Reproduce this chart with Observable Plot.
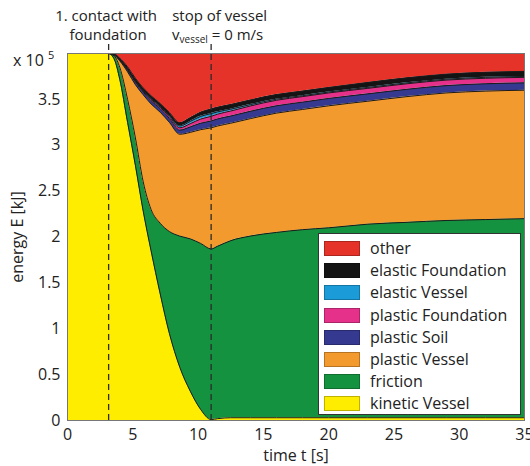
<!DOCTYPE html>
<html><head><meta charset="utf-8">
<script src="https://cdn.jsdelivr.net/npm/d3@7"></script>
<script src="https://cdn.jsdelivr.net/npm/@observablehq/plot@0.6"></script>
<style>
body{margin:0;background:#fff;font-family:"Open Sans",sans-serif;color:#222;}
#wrap{position:relative;width:530px;height:466px;overflow:hidden;}
.ann{position:absolute;font-size:15px;white-space:nowrap;transform:translateX(-50%);line-height:18px;}
.ann sub{font-size:10px;vertical-align:-3px;line-height:0;}
#legend{position:absolute;background:#fff;border:1px solid #333;box-sizing:border-box;}
.row{position:absolute;left:0;height:22px;font-size:16px;line-height:22px;white-space:nowrap;}
.sw{position:absolute;width:36px;height:15px;top:3px;box-sizing:border-box;border:1px solid rgba(0,0,0,0.25);}
.lt{position:absolute;left:46px;top:-1px;}
#pow{position:absolute;font-size:16px;white-space:nowrap;}
#pow sup{font-size:11px;vertical-align:7px;line-height:0;}
</style></head><body><div id="wrap"></div>
<script>
const time = [0, 3.15, 3.6, 4, 4.6, 5.2, 5.8, 6.4, 7.1, 7.8, 8.6, 9.4, 10.2, 11, 11.5, 12.5, 14, 16, 18, 20, 23, 26, 29, 32, 35];
const kineticVessel     = [4, 4, 3.93, 3.72, 3.25, 2.78, 2.28, 1.85, 1.38, 0.95, 0.58, 0.32, 0.12, 0.01, 0.02, 0.03, 0.03, 0.03, 0.03, 0.03, 0.03, 0.03, 0.03, 0.03, 0.03];
const friction          = [0, 0, 0.04, 0.13, 0.25, 0.30, 0.32, 0.45, 0.77, 1.11, 1.43, 1.66, 1.81, 1.86, 1.88, 1.93, 1.98, 2.02, 2.05, 2.07, 2.11, 2.13, 2.15, 2.16, 2.17];
const plasticVessel     = [0, 0, 0.01, 0.07, 0.30, 0.58, 0.95, 1.15, 1.21, 1.19, 1.11, 1.16, 1.24, 1.32, 1.31, 1.28, 1.28, 1.30, 1.31, 1.33, 1.34, 1.37, 1.39, 1.40, 1.40];
const plasticSoil       = [0, 0, 0.005, 0.01, 0.02, 0.025, 0.03, 0.035, 0.04, 0.042, 0.045, 0.06, 0.07, 0.075, 0.077, 0.078, 0.08, 0.08, 0.08, 0.08, 0.08, 0.08, 0.08, 0.08, 0.08];
const plasticFoundation = [0, 0, 0, 0, 0.005, 0.01, 0.01, 0.015, 0.015, 0.02, 0.025, 0.035, 0.045, 0.05, 0.052, 0.055, 0.058, 0.06, 0.06, 0.06, 0.06, 0.06, 0.06, 0.06, 0.06];
const elasticVessel     = [0, 0, 0, 0, 0.005, 0.005, 0.005, 0.01, 0.01, 0.015, 0.02, 0.025, 0.03, 0.03, 0.025, 0.02, 0.015, 0.012, 0.01, 0.01, 0.01, 0.01, 0.01, 0.01, 0.01];
const elasticFoundation = [0, 0, 0.01, 0.02, 0.025, 0.03, 0.03, 0.03, 0.03, 0.03, 0.035, 0.04, 0.045, 0.05, 0.05, 0.05, 0.05, 0.05, 0.05, 0.05, 0.055, 0.055, 0.055, 0.055, 0.055];
const other             = [0, 0, 0.005, 0.05, 0.145, 0.27, 0.375, 0.46, 0.545, 0.643, 0.755, 0.70, 0.64, 0.605, 0.586, 0.557, 0.507, 0.448, 0.41, 0.37, 0.315, 0.265, 0.225, 0.205, 0.195];

const seriesNames  = ["kinetic Vessel", "friction", "plastic Vessel", "plastic Soil", "plastic Foundation", "elastic Vessel", "elastic Foundation", "other"];
const seriesColors = ["#FFED00", "#15923F", "#F39A2E", "#35398F", "#E6318B", "#1B9CD8", "#141414", "#E5332A"];
const seriesValues = [kineticVessel, friction, plasticVessel, plasticSoil, plasticFoundation, elasticVessel, elasticFoundation, other];
const legendOrder  = ["other", "elastic Foundation", "elastic Vessel", "plastic Foundation", "plastic Soil", "plastic Vessel", "friction", "kinetic Vessel"];
const eventTimes   = [3.15, 11];
const xTicks = [0, 5, 10, 15, 20, 25, 30, 35];
const yTicks = [0, 0.5, 1, 1.5, 2, 2.5, 3, 3.5];

const data = seriesNames.flatMap((s, i) => time.map((t, j) => ({t, v: seriesValues[i][j], series: s})));

const chart = Plot.plot({
  width: 530, height: 466,
  marginLeft: 67, marginRight: 6, marginTop: 53, marginBottom: 46,
  style: {fontFamily: '"Open Sans", sans-serif', fontSize: "16px", background: "transparent", overflow: "visible", color: "#222"},
  x: {domain: [0, 35]},
  y: {domain: [0, 4]},
  color: {domain: seriesNames, range: seriesColors},
  marks: [
    Plot.areaY(data, {x: "t", y: "v", fill: "series", order: seriesNames, curve: "monotone-x"}),
    Plot.lineY(data, Plot.stackY2({x: "t", y: "v", z: "series", order: seriesNames, curve: "monotone-x", stroke: "#1b1b1b", strokeWidth: 1})),
    Plot.ruleX(eventTimes, {y1: 0, y2: 4.1, stroke: "#2b2b2b", strokeWidth: 1.3, strokeDasharray: "6,4"}),
    Plot.frame({stroke: "#777"}),
    Plot.axisX({ticks: xTicks, tickSize: 0, tickPadding: 8, label: "time t [s]", labelAnchor: "center", labelOffset: 40, labelArrow: "none"}),
    Plot.axisY({ticks: yTicks, tickSize: 0, tickPadding: 7, tickFormat: d => String(d), label: "energy E [kJ]", labelAnchor: "center", labelOffset: 56, labelArrow: "none"})
  ]
});
const wrap = document.getElementById("wrap");
wrap.appendChild(chart);

const xs = chart.scale("x");
function ann(html, cx, top) {
  const d = document.createElement("div");
  d.className = "ann"; d.innerHTML = html;
  d.style.left = cx + "px"; d.style.top = top + "px";
  wrap.appendChild(d);
}
const x1 = xs.apply(eventTimes[0]), x2 = xs.apply(eventTimes[1]);
ann("1. contact with", x1 - 2, 6);
ann("foundation", x1, 25);
ann("stop of vessel", x2 + 9, 6);
ann("v<sub>vessel</sub> = 0 m/s", x2 + 7, 25);

const pow = document.createElement("div");
pow.id = "pow"; pow.innerHTML = "x 10 <sup>5</sup>";
pow.style.left = "13px"; pow.style.top = "49px";
wrap.appendChild(pow);

const lg = document.createElement("div");
lg.id = "legend";
lg.style.left = "318px"; lg.style.top = "233px"; lg.style.width = "203px"; lg.style.height = "182px";
legendOrder.forEach((name, i) => {
  const r = document.createElement("div");
  r.className = "row"; r.style.top = (4 + i * 22.2) + "px"; r.style.left = "5px";
  const sw = document.createElement("div"); sw.className = "sw";
  sw.style.background = seriesColors[seriesNames.indexOf(name)];
  const t = document.createElement("div"); t.className = "lt"; t.textContent = name;
  r.appendChild(sw); r.appendChild(t); lg.appendChild(r);
});
wrap.appendChild(lg);
</script></body></html>
